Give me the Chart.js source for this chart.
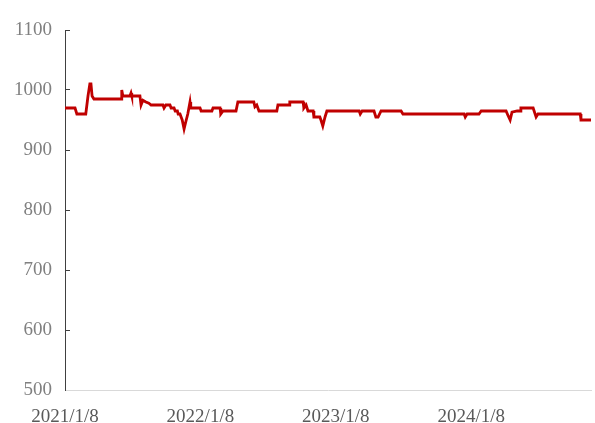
<!DOCTYPE html>
<html lang="zh">
<head>
    <meta charset="UTF-8">
    <title>Price line</title>
    <script src="https://cdn.jsdelivr.net/npm/chart.js"></script>
    <style>
        body { margin: 0; background: #fff; }
        #wrap { width: 595px; height: 423px; }
    </style>
</head>
<body>
    <div id="wrap">
        <canvas id="myChart"></canvas>
    </div>
    <script>
        // vertices of the line
        const dates = [
            '2021-01-08', '2021-02-04', '2021-02-09', '2021-03-05', '2021-03-11', '2021-03-16', '2021-03-19', '2021-03-22', '2021-03-27',
            '2021-06-08', '2021-06-10', '2021-06-13', '2021-07-02', '2021-07-05', '2021-07-07', '2021-07-29', '2021-08-01', '2021-08-06',
            '2021-08-14', '2021-08-22', '2021-08-28', '2021-09-29', '2021-10-02', '2021-10-07', '2021-10-18', '2021-10-21', '2021-10-29',
            '2021-11-01', '2021-11-07', '2021-11-09', '2021-11-14', '2021-11-17', '2021-11-20', '2021-11-25', '2021-11-30', '2021-12-05',
            '2021-12-11', '2021-12-13', '2022-01-07', '2022-01-10',
            '2022-02-08', '2022-02-11', '2022-03-02', '2022-03-04', '2022-03-10', '2022-04-14', '2022-04-19', '2022-06-01', '2022-06-04',
            '2022-06-09', '2022-06-15', '2022-08-02', '2022-08-05', '2022-09-04', '2022-09-06', '2022-10-12', '2022-10-14', '2022-10-20',
            '2022-10-25', '2022-11-08', '2022-11-10', '2022-11-26', '2022-11-29', '2022-12-04', '2022-12-10', '2022-12-15', '2023-03-12',
            '2023-03-15', '2023-03-20', '2023-04-21', '2023-04-26', '2023-05-02', '2023-05-10', '2023-07-03', '2023-07-08', '2023-12-20',
            '2023-12-23', '2023-12-28', '2024-01-29', '2024-02-04', '2024-04-11', '2024-04-16', '2024-04-22', '2024-04-27', '2024-05-11',
            '2024-05-19', '2024-05-21', '2024-06-23', '2024-07-01', '2024-07-06', '2024-10-28', '2024-10-30', '2024-11-26'
        ];
        const prices = [
            970, 970, 960, 960, 990, 1010, 1010, 990, 985,
            985, 1000, 990, 990, 995, 990, 990, 975, 983,
            980, 978, 975, 975, 970, 975, 975, 970, 970,
            965, 965, 960, 960, 955, 950, 935, 948, 960,
            980, 970, 970, 965,
            965, 970, 970, 960, 965, 965, 980, 980, 972,
            975, 965, 965, 975, 975, 980, 980, 970, 975,
            965, 965, 955, 955, 950, 940, 955, 965, 965,
            960, 965, 965, 955, 955, 965, 965, 960, 960,
            955, 960, 960, 965, 965, 958, 950, 963, 965,
            965, 970, 970, 955, 960, 960, 950, 950
        ];
        const tickLabels = ['2021/1/8', '2022/1/8', '2023/1/8', '2024/1/8'];
        const yTicks = [500, 600, 700, 800, 900, 1000, 1100];

        const start = Date.UTC(2021, 0, 8);
        function dayOf(s) {
            const p = s.split(/[-\/]/).map(Number);
            return (Date.UTC(p[0], p[1] - 1, p[2]) - start) / 86400000;
        }
        const tickDays = tickLabels.map(dayOf);
        const points = dates.map((d, i) => ({ x: dayOf(d), y: prices[i] }));

        const ctx = document.getElementById('myChart').getContext('2d');
        const myChart = new Chart(ctx, {
            type: 'line',
            data: {
                datasets: [{
                    data: points,
                    borderColor: '#c00000',
                    borderWidth: 2.8,
                    pointRadius: 0,
                    tension: 0,
                    fill: false
                }]
            },
            options: {
                responsive: true,
                maintainAspectRatio: false,
                animation: false,
                layout: { padding: { top: 30, right: 4, left: 0, bottom: 0 } },
                plugins: {
                    legend: { display: false },
                    tooltip: { enabled: false }
                },
                scales: {
                    x: {
                        type: 'linear',
                        min: 0,
                        max: points[points.length - 1].x,
                        afterBuildTicks: (scale) => {
                            scale.ticks = tickDays.map(v => ({ value: v }));
                        },
                        afterFit: (scale) => { scale.height = 33; },
                        grid: { display: false },
                        border: { color: '#d9d9d9', width: 1 },
                        ticks: {
                            autoSkip: false,
                            maxRotation: 0,
                            padding: 8,
                            color: '#595959',
                            font: { family: "'Liberation Serif', serif", size: 19 },
                            callback: (value) => tickLabels[tickDays.indexOf(value)] || ''
                        }
                    },
                    y: {
                        min: 500,
                        max: 1100,
                        afterBuildTicks: (scale) => {
                            scale.ticks = yTicks.map(v => ({ value: v }));
                        },
                        afterFit: (scale) => { scale.width = 65; },
                        grid: {
                            drawOnChartArea: false,
                            drawTicks: true,
                            tickLength: -5,
                            color: '#404040'
                        },
                        border: { color: '#404040', width: 1 },
                        ticks: {
                            padding: 18,
                            color: '#808080',
                            font: { family: "'Liberation Serif', serif", size: 19 },
                            callback: (value) => String(value)
                        }
                    }
                }
            }
        });
    </script>
</body>
</html>
